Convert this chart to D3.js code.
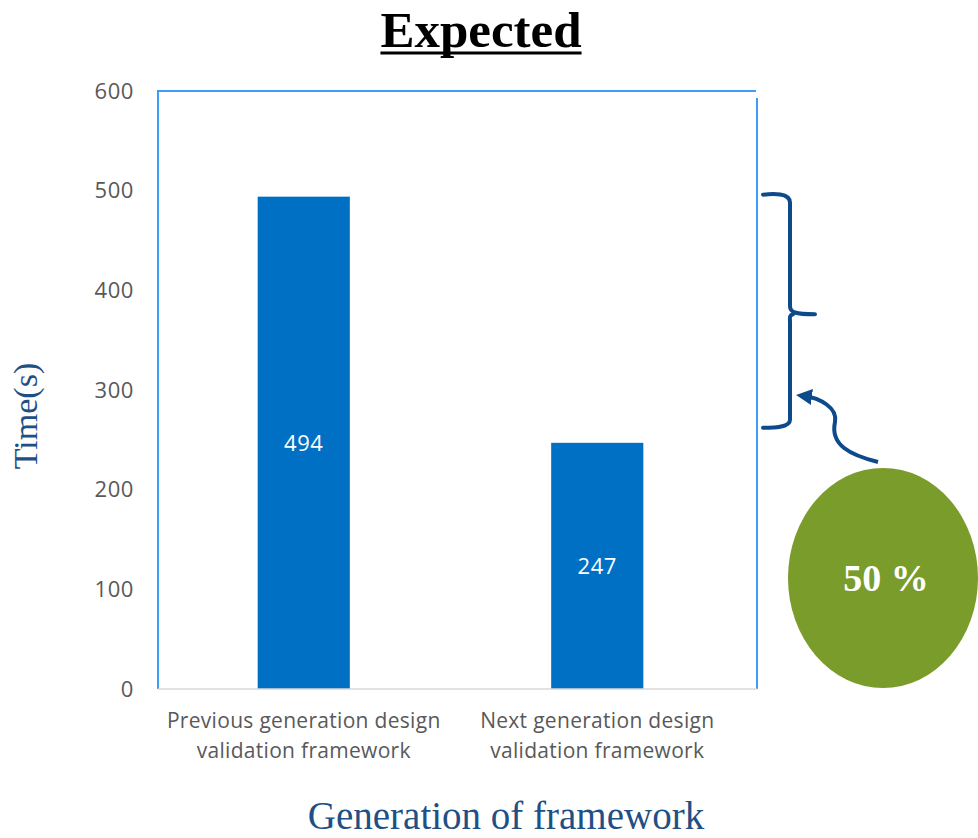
<!DOCTYPE html>
<html>
<head>
<meta charset="utf-8">
<script src="https://cdn.jsdelivr.net/npm/d3@7"></script>
<style>
  html, body { margin: 0; padding: 0; background: #ffffff; }
  svg { display: block; }
</style>
</head>
<body>
<svg id="chart" width="978" height="838"></svg>
<script>
// Framework run times (seconds)
const categories = [
  ["Previous generation design", "validation framework"],
  ["Next generation design", "validation framework"]
];
const values = [494, 247];
const yTicks = [0, 100, 200, 300, 400, 500, 600];
const reductionLabel = "50 %";

const svg = d3.select("#chart");

const plot = { left: 158, right: 757, top: 91, bottom: 689 };
const sansFont = "'Open Sans', 'Noto Sans', sans-serif";
const serifFont = "'Liberation Serif', 'Times New Roman', serif";

const y = d3.scaleLinear().domain([0, 600]).range([plot.bottom, plot.top]);
const x = d3.scaleBand()
  .domain(d3.range(values.length))
  .range([157, 744])
  .paddingInner(0.686)
  .paddingOuter(0.343);

// Title
const title = svg.append("text")
  .attr("x", 481).attr("y", 47)
  .attr("text-anchor", "middle")
  .attr("font-family", serifFont)
  .attr("font-weight", "bold")
  .attr("font-size", 51)
  .attr("fill", "#000")
  .text("Expected");
const tb = title.node().getBBox();
svg.append("line")
  .attr("x1", tb.x).attr("x2", tb.x + tb.width)
  .attr("y1", 53).attr("y2", 53)
  .attr("stroke", "#000").attr("stroke-width", 3);

// Plot frame: left, top, right edges in light blue, gray baseline
svg.append("path")
  .attr("d", `M${plot.left},${plot.bottom} V${plot.top} H${plot.right - 1}`)
  .attr("fill", "none").attr("stroke", "#3d9cf7").attr("stroke-width", 2);
svg.append("line")
  .attr("x1", plot.right).attr("x2", plot.right)
  .attr("y1", plot.top + 7).attr("y2", plot.bottom)
  .attr("stroke", "#3d9cf7").attr("stroke-width", 2);

// Y axis labels
const yAxis = d3.axisLeft(y).tickValues(yTicks).tickSize(0).tickPadding(0);
const gy = svg.append("g").attr("transform", "translate(134,0)").call(yAxis);
gy.select(".domain").remove();
gy.selectAll("text")
  .attr("font-family", sansFont)
  .attr("font-size", 22)
  .attr("letter-spacing", 0.6)
  .attr("fill", "#595959");

// Bars
svg.append("g").selectAll("rect")
  .data(values)
  .join("rect")
  .attr("x", (d, i) => x(i))
  .attr("width", x.bandwidth())
  .attr("y", d => y(d))
  .attr("height", d => y(0) - y(d))
  .attr("fill", "#0070c5");

// Baseline
svg.append("line")
  .attr("x1", plot.left).attr("x2", plot.right)
  .attr("y1", plot.bottom).attr("y2", plot.bottom)
  .attr("stroke", "#d9d9d9").attr("stroke-width", 1.5);

// Value labels
svg.append("g").selectAll("text")
  .data(values)
  .join("text")
  .attr("x", (d, i) => x(i) + x.bandwidth() / 2)
  .attr("y", d => (y(d) + y(0)) / 2)
  .attr("dy", "0.35em")
  .attr("text-anchor", "middle")
  .attr("font-family", sansFont)
  .attr("font-size", 22)
  .attr("letter-spacing", 0.6)
  .attr("fill", "#ffffff")
  .text(d => d);

// Category labels
const cat = svg.append("g").selectAll("text")
  .data(categories)
  .join("text")
  .attr("x", (d, i) => x(i) + x.bandwidth() / 2)
  .attr("y", 728)
  .attr("text-anchor", "middle")
  .attr("font-family", sansFont)
  .attr("font-size", 21)
  .attr("letter-spacing", 0.3)
  .attr("fill", "#595959");
cat.selectAll("tspan")
  .data(d => d)
  .join("tspan")
  .attr("x", function () { return this.parentNode.getAttribute("x"); })
  .attr("dy", (d, j) => j === 0 ? 0 : 30)
  .text(d => d);

// Axis titles
svg.append("text")
  .attr("transform", "translate(37,416) rotate(-90)")
  .attr("text-anchor", "middle")
  .attr("font-family", serifFont)
  .attr("font-size", 34)
  .attr("fill", "#1f5085")
  .text("Time(s)");

svg.append("text")
  .attr("x", 506).attr("y", 829)
  .attr("text-anchor", "middle")
  .attr("font-family", serifFont)
  .attr("font-size", 39)
  .attr("fill", "#1f5085")
  .text("Generation of framework");

// Brace spanning the difference between the two bars
const bTop = y(values[0]) - 2, bBot = y(values[1]) - 15;
const bMid = (bTop + bBot) / 2 + 3;
const bx0 = 763, bx1 = 790, bTip = 815;
svg.append("path")
  .attr("d", `M${bx0},${bTop} C${bx0 + 10},${bTop - 1} ${bx1},${bTop - 2} ${bx1},${bTop + 8}
              V${bMid - 8} C${bx1},${bMid - 2} ${bx1 + 5},${bMid} ${bTip},${bMid}
              M${bx1 + 3},${bMid} C${bx1 - 1},${bMid + 1} ${bx1},${bMid + 4} ${bx1},${bMid + 8}
              V${bBot - 8} C${bx1},${bBot} ${bx0 + 10},${bBot} ${bx0},${bBot}`)
  .attr("fill", "none")
  .attr("stroke", "#0d4a8c")
  .attr("stroke-width", 4)
  .attr("stroke-linecap", "round");

// Curved arrow from the badge to the brace
svg.append("defs").append("marker")
  .attr("id", "arrowhead")
  .attr("viewBox", "0 0 10 10")
  .attr("refX", 5).attr("refY", 5)
  .attr("markerWidth", 4).attr("markerHeight", 4)
  .attr("orient", "auto")
  .append("path")
  .attr("d", "M0,0 L10,5 L0,10 Z")
  .attr("fill", "#0d4a8c");
svg.append("path")
  .attr("d", "M878,462 C850,455 830,445 835,422 C838,408 820,398 804,396")
  .attr("fill", "none")
  .attr("stroke", "#0d4a8c")
  .attr("stroke-width", 4)
  .attr("marker-end", "url(#arrowhead)");

// Reduction badge
svg.append("ellipse")
  .attr("cx", 883).attr("cy", 578)
  .attr("rx", 95).attr("ry", 110)
  .attr("fill", "#7a9c2b");
svg.append("text")
  .attr("x", 886).attr("y", 591)
  .attr("text-anchor", "middle")
  .attr("font-family", serifFont)
  .attr("font-weight", "bold")
  .attr("font-size", 38)
  .attr("fill", "#ffffff")
  .text(reductionLabel);
</script>
</body>
</html>
